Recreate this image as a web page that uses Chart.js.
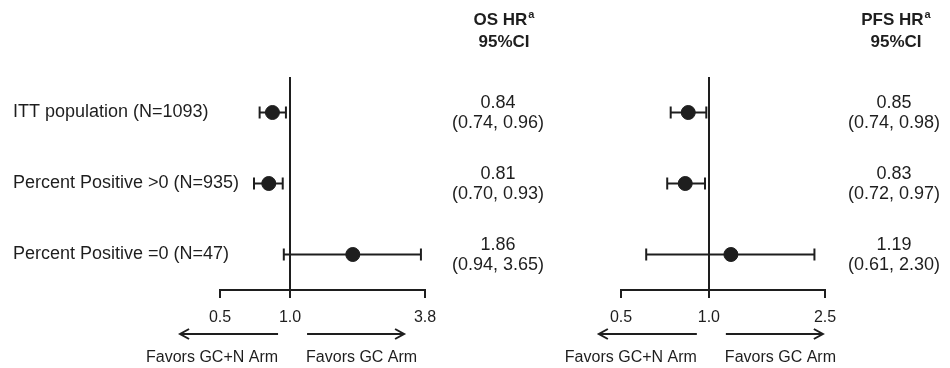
<!DOCTYPE html>
<html>
<head>
<meta charset="utf-8">
<title>OS / PFS hazard ratios</title>
<script src="https://cdn.jsdelivr.net/npm/chart.js@4.4.1/dist/chart.umd.min.js"></script>
<style>
  body { margin: 0; background: #fff; }
  #wrap { position: relative; width: 950px; height: 368px; }
  .panel { position: absolute; top: 0; height: 368px; }
</style>
</head>
<body>
<div id="wrap">
  <div class="panel" style="left:0;width:560px"><canvas id="osChart" width="560" height="368"></canvas></div>
  <div class="panel" style="left:560px;width:390px"><canvas id="pfsChart" width="390" height="368"></canvas></div>
</div>

<script>
// subgroups, top to bottom
const rows = ['ITT population (N=1093)', 'Percent Positive >0 (N=935)', 'Percent Positive =0 (N=47)'];

// overall survival
const osHr = [0.84, 0.81, 1.86];
const osLow = [0.74, 0.70, 0.94];
const osHigh = [0.96, 0.93, 3.65];
const osTicks = [0.5, 1.0, 3.8];

// progression free survival
const pfsHr = [0.85, 0.83, 1.19];
const pfsLow = [0.74, 0.72, 0.61];
const pfsHigh = [0.98, 0.97, 2.30];
const pfsTicks = [0.5, 1.0, 2.5];

const favorLeft = 'Favors GC+N Arm';
const favorRight = 'Favors GC Arm';

const ink = '#1e1e1e';
const family = '"Liberation Sans", Arial, Helvetica, sans-serif';
Chart.defaults.font.family = family;
Chart.defaults.color = ink;

function arrow(ctx, from, to, y) {
  const dir = to > from ? 1 : -1;
  ctx.beginPath();
  ctx.moveTo(from, y);
  ctx.lineTo(to, y);
  ctx.moveTo(to - dir * 9, y - 5);
  ctx.lineTo(to, y);
  ctx.lineTo(to - dir * 9, y + 5);
  ctx.stroke();
}

// arrows, "favors" captions and the HR / CI text column
const extras = {
  id: 'extras',
  afterDraw(chart, args, opts) {
    const ctx = chart.ctx;
    const xs = chart.scales.x, ys = chart.scales.y;
    const one = xs.getPixelForValue(1);
    ctx.save();
    ctx.strokeStyle = ink;
    ctx.fillStyle = ink;
    ctx.lineWidth = 2;
    arrow(ctx, one - 12, one - 110, 334);
    arrow(ctx, one + 17, one + 114, 334);

    ctx.font = '16px ' + family;
    ctx.textBaseline = 'middle';
    ctx.textAlign = 'right';
    ctx.fillText(favorLeft, one - 12, 358);
    ctx.textAlign = 'left';
    ctx.fillText(favorRight, one + 16, 358);

    // header with superscript a
    const hx = opts.colX + opts.headShift;
    ctx.font = 'bold 17px ' + family;
    const w = ctx.measureText(opts.title).width;
    ctx.font = 'bold 11px ' + family;
    const ws = ctx.measureText('a').width;
    const x0 = hx - (w + ws + 1) / 2;
    ctx.textAlign = 'left';
    ctx.fillText('a', x0 + w + 1, 15);
    ctx.font = 'bold 17px ' + family;
    ctx.fillText(opts.title, x0, 20);
    ctx.textAlign = 'center';
    ctx.fillText('95%CI', hx, 42);

    const cx = opts.colX;
    ctx.font = '18px ' + family;
    opts.hr.forEach((v, i) => {
      const py = ys.getPixelForValue(i);
      ctx.fillText(v.toFixed(2), cx, py - 9);
      ctx.fillText('(' + opts.low[i].toFixed(2) + ', ' + opts.high[i].toFixed(2) + ')', cx, py + 11);
    });
    ctx.restore();
  }
};

function makeDatasets(hr, low, high) {
  const sets = [{
    data: hr.map((v, i) => ({ x: v, y: i })),
    pointRadius: 7,
    pointHoverRadius: 7,
    backgroundColor: ink,
    borderColor: ink
  }];
  hr.forEach((v, i) => {
    sets.push({
      data: [{ x: low[i], y: i }, { x: high[i], y: i }],
      showLine: true,
      borderColor: ink,
      borderWidth: 2,
      pointStyle: 'line',
      pointRotation: 90,
      pointRadius: 6,
      pointHoverRadius: 6,
      pointBorderWidth: 2,
      pointBorderColor: ink
    });
  });
  return sets;
}

function makeChart(id, hr, low, high, tickVals, title, colX, headShift, showRows, pad) {
  return new Chart(document.getElementById(id), {
    type: 'scatter',
    data: { datasets: makeDatasets(hr, low, high) },
    plugins: [extras],
    options: {
      responsive: false,
      animation: false,
      events: [],
      layout: { padding: pad },
      plugins: {
        legend: { display: false },
        tooltip: { enabled: false },
        extras: { title: title, colX: colX, headShift: headShift, hr: hr, low: low, high: high }
      },
      scales: {
        x: {
          type: 'logarithmic',
          min: tickVals[0],
          max: tickVals[tickVals.length - 1],
          bounds: 'data',
          afterBuildTicks: s => { s.ticks = tickVals.map(v => ({ value: v })); },
          afterFit: s => { s.height = 40; },
          ticks: {
            callback: v => Number(v).toFixed(1),
            color: ink,
            font: { size: 16 },
            padding: 10,
            autoSkip: false,
            maxRotation: 0
          },
          grid: {
            color: c => (c.tick && c.tick.value === 1) ? ink : 'rgba(0,0,0,0)',
            lineWidth: 2,
            tickColor: ink,
            tickLength: 8
          },
          border: { display: true, color: ink, width: 2 }
        },
        y: {
          type: 'linear',
          display: showRows,
          min: -0.5,
          max: 2.5,
          reverse: true,
          afterBuildTicks: s => { s.ticks = rows.map((r, i) => ({ value: i })); },
          afterFit: s => { if (showRows) s.width = 207; },
          ticks: {
            // mirrored so the long labels are not clipped at the plot edge
            callback: v => rows[v],
            mirror: true,
            padding: -207,
            crossAlign: 'near',
            color: ink,
            font: { size: 18 },
            autoSkip: false
          },
          grid: { display: false },
          border: { display: false }
        }
      }
    }
  });
}

makeChart('osChart', osHr, osLow, osHigh, osTicks, 'OS HR', 498, 6, true,
  { left: 13, top: 77, right: 135, bottom: 38 });
makeChart('pfsChart', pfsHr, pfsLow, pfsHigh, pfsTicks, 'PFS HR', 334, 2, false,
  { left: 61, top: 77, right: 125, bottom: 38 });
</script>
</body>
</html>
